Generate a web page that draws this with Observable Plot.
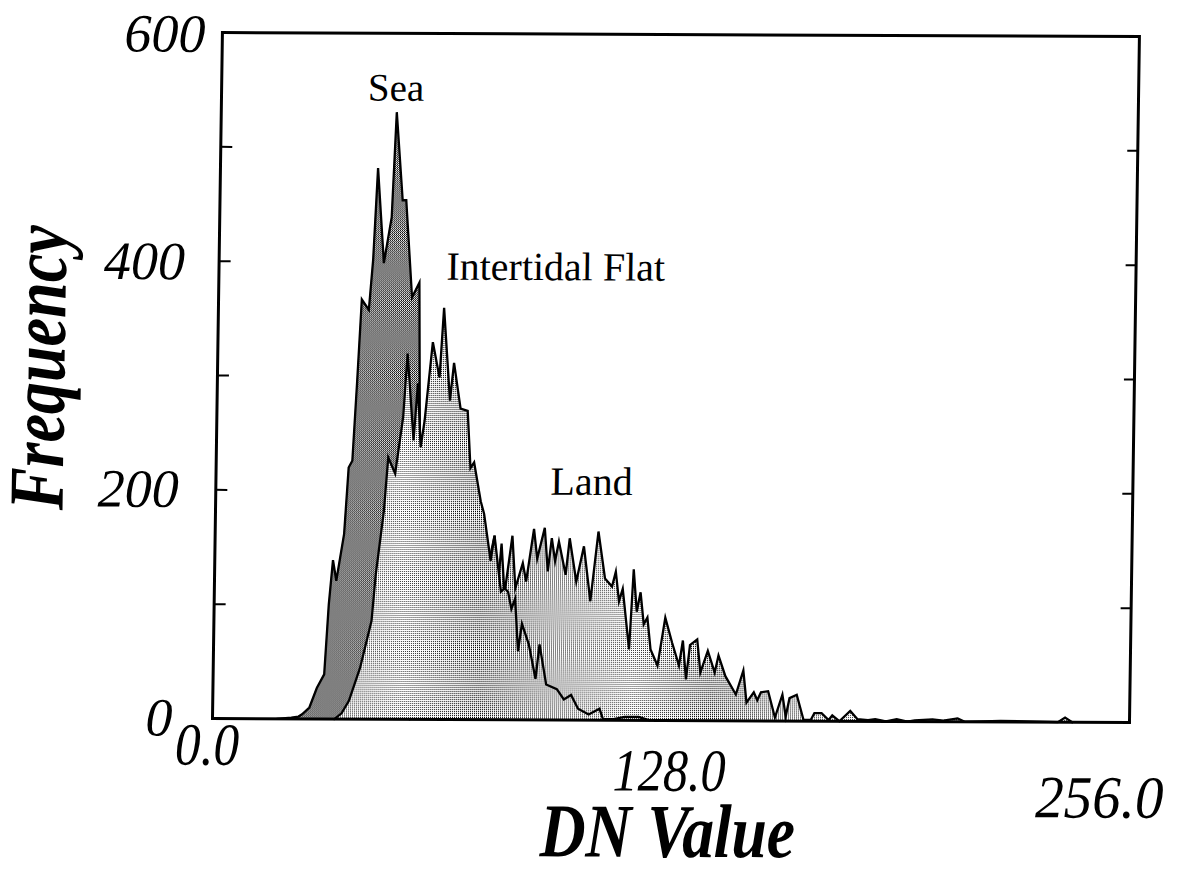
<!DOCTYPE html>
<html>
<head>
<meta charset="utf-8">
<script src="https://cdn.jsdelivr.net/npm/d3@7"></script>
<script src="https://cdn.jsdelivr.net/npm/@observablehq/plot@0.6"></script>
<style>
  html, body { margin: 0; padding: 0; background: #fff; }
  #chart svg { display: block; transform-origin: 212px 718px; transform: rotate(0.25deg) skewX(-0.58deg); }
</style>
</head>
<body>
<div id="chart"></div>
<script>
// DN histograms of three surface classes
const seaDN   = [18, 22, 24, 25, 27, 29, 31, 32, 33, 34, 36, 37, 38, 39, 40, 42, 43, 44, 46, 48, 49, 51, 52, 54, 56, 57, 59, 61, 63];
const seaFreq = [0, 1, 2, 4, 10, 27, 39, 100, 139, 121, 162, 220, 226, 294, 367, 358, 402, 482, 399, 439, 531, 454, 454, 369, 382, 200, 100, 30, 0];

const flatDN   = [34, 36, 38, 41, 44, 45, 47, 48, 50, 52, 53, 55, 56, 57, 58, 60, 62, 63, 65, 66, 68, 70, 71, 72, 74, 75, 77, 78, 80, 81, 82, 83, 84, 85, 86, 88, 90, 91, 93, 96, 98, 100, 102, 105, 108, 109, 112, 115, 119, 122];
const flatFreq = [0, 5, 16, 45, 86, 127, 182, 229, 215, 264, 320, 244, 294, 238, 261, 330, 299, 360, 279, 312, 272, 270, 220, 225, 191, 180, 139, 161, 112, 115, 112, 97, 106, 60, 84, 66, 36, 66, 31, 27, 18, 22, 10, 5, 10, 1, 1, 3, 3, 0];

const landDN   = [55, 60, 65, 70, 74, 76, 77, 78, 79, 80, 81, 83, 84, 86, 87, 89, 90, 92, 93, 94, 95, 96, 98, 99, 101, 103, 105, 107, 109, 111, 112, 113, 114, 116, 117, 118, 119, 120, 121, 122, 124, 126, 128, 130, 131, 132, 133, 135, 136, 138, 140, 141, 143, 146, 148, 149, 151, 152, 153, 155, 157, 159, 160, 161, 163, 165, 167, 168, 170, 172, 173, 175, 178, 180, 183, 185, 188, 191, 194, 196, 201, 204, 208, 210, 220, 236, 238, 240];
const landFreq = [0, 15, 45, 85, 118, 138, 145, 161, 112, 154, 110, 161, 115, 137, 121, 167, 141, 168, 130, 159, 139, 156, 127, 159, 121, 152, 104, 165, 124, 117, 130, 104, 115, 62, 132, 95, 112, 84, 90, 62, 48, 90, 68, 48, 70, 36, 66, 71, 42, 61, 42, 57, 39, 23, 44, 16, 25, 18, 25, 26, 3, 23, 4, 20, 23, 1, 1, 7, 7, 1, 5, 0, 9, 2, 1, 2, 0, 2, 0, 1, 2, 1, 3, 0, 1, 0, 4, 0];

const seriesNames = ["Sea", "Intertidal Flat", "Land"];
const xTicks = [0, 128, 256];
const yTicks = [0, 200, 400, 600];
const yMinorTicks = [100, 200, 300, 400, 500];

const toRows = (dn, freq) => dn.map((d, i) => ({dn: d, freq: freq[i]}));
const sea = toRows(seaDN, seaFreq);
const flat = toRows(flatDN, flatFreq);
const land = toRows(landDN, landFreq);
const peakOf = rows => rows.reduce((a, b) => (b.freq > a.freq ? b : a));

const W = 1196, H = 873;
const mL = 212, mR = 67, mT = 32, mB = 155;
const innerW = W - mL - mR;
const serif = "'Liberation Serif', 'Times New Roman', serif";

// label offsets (px) for the staggered tick labels
const yLabelDx = [-40, -37, -34, -17];
const yLabelDy = [0, 0, 1, 2];
const xLabelDx = [-5, -1, -29];
const xLabelDy = [27, 51, 76];
// set widths for the tall, narrow serif labels
const narrowWidth = {"0.0": 64, "128.0": 113, "256.0": 128, "DN Value": 255, "Frequency": 285};

const lineStyle = {stroke: "black", strokeWidth: 2.3, strokeLinejoin: "miter", strokeMiterlimit: 6};

const chart = Plot.plot({
  width: W,
  height: H,
  marginLeft: mL,
  marginRight: mR,
  marginTop: mT,
  marginBottom: mB,
  x: {domain: [0, 256], axis: null},
  y: {domain: [0, 600], axis: null},
  style: {fontFamily: serif, background: "white", color: "black"},
  marks: [
    Plot.areaY(sea, {x: "dn", y: "freq", fill: "url(#dotsDark)"}),
    Plot.lineY(sea, {x: "dn", y: "freq", ...lineStyle}),
    Plot.areaY(land, {x: "dn", y: "freq", fill: "url(#dotsLight)"}),
    Plot.lineY(land, {x: "dn", y: "freq", ...lineStyle}),
    Plot.areaY(flat, {x: "dn", y: "freq", fill: "url(#dotsLight)"}),
    Plot.lineY(flat, {x: "dn", y: "freq", ...lineStyle}),

    // inward minor ticks on both sides of the frame
    Plot.ruleY(yMinorTicks, {y: d => d, insetRight: innerW - 12, strokeWidth: 2}),
    Plot.ruleY(yMinorTicks, {y: d => d, insetLeft: innerW - 10, strokeWidth: 2}),
    Plot.frame({stroke: "black", strokeWidth: 3}),

    // y tick labels
    ...yTicks.map((v, i) => Plot.text([v], {
      y: d => d, frameAnchor: "left", text: d => String(d),
      textAnchor: "end", lineAnchor: "middle", dx: yLabelDx[i], dy: yLabelDy[i],
      fontSize: 54, fontStyle: "italic"
    })),
    // x tick labels
    ...xTicks.map((v, i) => Plot.text([v], {
      x: d => d, frameAnchor: "bottom", text: d => d.toFixed(1),
      textAnchor: "middle", lineAnchor: "middle", dx: xLabelDx[i], dy: xLabelDy[i],
      fontSize: 60, fontStyle: "italic", ariaDescription: "narrow"
    })),

    // axis titles
    Plot.text(["Frequency"], {
      frameAnchor: "left", text: d => d, rotate: -90,
      textAnchor: "middle", lineAnchor: "middle", dx: -178, dy: -7,
      fontSize: 78, fontWeight: "bold", fontStyle: "italic", ariaDescription: "narrow"
    }),
    Plot.text(["DN Value"], {
      frameAnchor: "bottom", text: d => d,
      textAnchor: "middle", lineAnchor: "middle", dx: -2, dy: 112,
      fontSize: 76, fontWeight: "bold", fontStyle: "italic", ariaDescription: "narrow"
    }),

    // series labels, placed relative to each series' peak
    Plot.text([peakOf(sea)], {x: "dn", y: "freq", text: () => seriesNames[0], dx: -1, dy: -24, fontSize: 39}),
    Plot.text([peakOf(flat)], {x: "dn", y: "freq", text: () => seriesNames[1], dx: 111, dy: -41, fontSize: 40}),
    Plot.text([peakOf(land)], {x: "dn", y: "freq", text: () => seriesNames[2], dx: 46, dy: -46, fontSize: 40})
  ]
});

// stipple fills
const svg = d3.select(chart);
const defs = svg.insert("defs", ":first-child");
const dark = defs.append("pattern").attr("id", "dotsDark")
  .attr("patternUnits", "userSpaceOnUse").attr("width", 2).attr("height", 2);
dark.append("rect").attr("width", 2).attr("height", 2).attr("fill", "white");
dark.append("rect").attr("x", 0).attr("y", 0).attr("width", 1).attr("height", 1).attr("fill", "black");
dark.append("rect").attr("x", 1).attr("y", 1).attr("width", 1).attr("height", 1).attr("fill", "black");
const light = defs.append("pattern").attr("id", "dotsLight")
  .attr("patternUnits", "userSpaceOnUse").attr("width", 2).attr("height", 2);
light.append("rect").attr("width", 2).attr("height", 2).attr("fill", "white");
light.append("rect").attr("x", 0).attr("y", 0).attr("width", 1).attr("height", 1).attr("fill", "black");

// squeeze the tall serif labels to their set widths
svg.selectAll('g[aria-description="narrow"] text').each(function () {
  const w = narrowWidth[this.textContent];
  if (w) {
    this.setAttribute("textLength", w);
    this.setAttribute("lengthAdjust", "spacingAndGlyphs");
  }
});

document.getElementById("chart").appendChild(chart);
</script>
</body>
</html>
